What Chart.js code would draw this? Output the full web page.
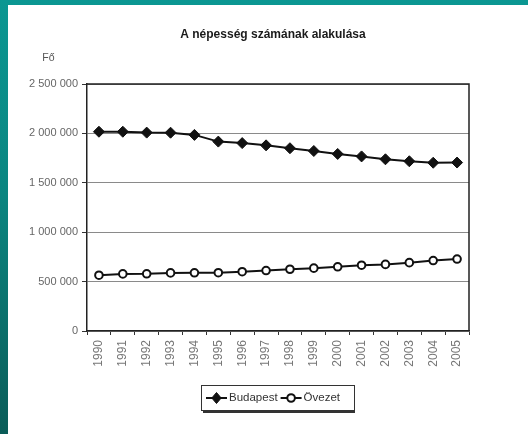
<!DOCTYPE html>
<html>
<head>
<meta charset="utf-8">
<script src="https://cdn.jsdelivr.net/npm/chart.js@4/dist/chart.umd.min.js"></script>
<style>
  html, body { margin: 0; padding: 0; }
  body {
    width: 528px; height: 434px; overflow: hidden;
    background: linear-gradient(to bottom, #0b9792 0%, #0a8580 45%, #0a5c58 100%);
    position: relative;
  }
  #panel {
    position: absolute; left: 8px; top: 5px;
    width: 520px; height: 429px; background: #ffffff;
  }
  #panel canvas { display: block; }
</style>
</head>
<body>
<div id="panel"><canvas id="chart" width="520" height="429"></canvas></div>
<script>
// Years on the category axis
const years = ['1990','1991','1992','1993','1994','1995','1996','1997',
               '1998','1999','2000','2001','2002','2003','2004','2005'];

// Population (persons)
const budapest = [2017000, 2017000, 2008000, 2007000, 1985000, 1917000, 1902000, 1879000,
                  1850000, 1822000, 1792000, 1767000, 1738000, 1718000, 1703000, 1705000];
const ovezet   = [565000, 578000, 579000, 588000, 589000, 590000, 600000, 612000,
                  625000, 636000, 650000, 666000, 674000, 692000, 713000, 728000];

// Value axis ticks
const yTicks = [0, 500000, 1000000, 1500000, 2000000, 2500000];

const titleText = 'A népesség számának alakulása';
const unitText = 'Fő';
const seriesNames = ['Budapest', 'Övezet'];

const FONT = '"Liberation Sans", Arial, sans-serif';

function fmt(v) {
  return String(v).replace(/\B(?=(\d{3})+(?!\d))/g, ' ');
}

// Title, unit label, plot frame and the boxed legend under the axis
const decorations = {
  id: 'decorations',
  afterDraw(chart) {
    const ctx = chart.ctx;
    const a = chart.chartArea;
    ctx.save();

    // frame around the plot
    ctx.strokeStyle = '#222';
    ctx.lineWidth = 1.5;
    ctx.beginPath();
    ctx.moveTo(a.left, a.top);
    ctx.lineTo(a.right, a.top);
    ctx.lineTo(a.right, a.bottom);
    ctx.stroke();

    // title
    ctx.fillStyle = '#1a1a1a';
    ctx.font = 'bold 12px ' + FONT;
    ctx.textAlign = 'center';
    ctx.textBaseline = 'middle';
    ctx.fillText(titleText, 265, 30);

    // unit
    ctx.fillStyle = '#555';
    ctx.font = '10.5px ' + FONT;
    ctx.fillText(unitText, 40.5, 53);

    // legend
    const bx = 193, by = 380, bw = 153, bh = 25;
    ctx.strokeStyle = '#333';
    ctx.lineWidth = 1;
    ctx.strokeRect(bx + 0.5, by + 0.5, bw, bh);
    ctx.lineWidth = 2;
    ctx.beginPath();
    ctx.moveTo(bx + 2, by + bh + 2);
    ctx.lineTo(bx + bw + 1, by + bh + 2);
    ctx.stroke();

    ctx.font = '11.5px ' + FONT;
    ctx.textAlign = 'left';
    const cy = by + bh / 2 + 0.5;
    let x = bx + 5;
    chart.data.datasets.forEach((ds, i) => {
      ctx.strokeStyle = '#111';
      ctx.lineWidth = 2;
      ctx.beginPath();
      ctx.moveTo(x, cy);
      ctx.lineTo(x + 21, cy);
      ctx.stroke();
      const px = x + 10.5;
      ctx.fillStyle = ds.pointBackgroundColor;
      ctx.strokeStyle = ds.pointBorderColor;
      ctx.lineWidth = ds.pointBorderWidth;
      ctx.beginPath();
      if (ds.pointStyle === 'circle') {
        ctx.arc(px, cy, ds.pointRadius, 0, Math.PI * 2);
      } else {
        const r = ds.pointRadius;
        ctx.moveTo(px, cy - r);
        ctx.lineTo(px + r * 0.85, cy);
        ctx.lineTo(px, cy + r);
        ctx.lineTo(px - r * 0.85, cy);
        ctx.closePath();
      }
      ctx.fill();
      ctx.stroke();
      x += 23;
      ctx.fillStyle = '#333';
      ctx.fillText(seriesNames[i], x, cy);
      x += ctx.measureText(seriesNames[i]).width + 3;
    });

    ctx.restore();
  }
};

new Chart(document.getElementById('chart'), {
  type: 'line',
  data: {
    labels: years,
    datasets: [
      {
        label: seriesNames[0],
        data: budapest,
        borderColor: '#111',
        borderWidth: 2,
        tension: 0,
        pointStyle: 'rectRot',
        pointRadius: 5.5,
        pointBackgroundColor: '#111',
        pointBorderColor: '#111',
        pointBorderWidth: 1
      },
      {
        label: seriesNames[1],
        data: ovezet,
        borderColor: '#111',
        borderWidth: 2,
        tension: 0,
        pointStyle: 'circle',
        pointRadius: 3.8,
        pointBackgroundColor: '#ffffff',
        pointBorderColor: '#111',
        pointBorderWidth: 2
      }
    ]
  },
  options: {
    responsive: false,
    animation: false,
    layout: { padding: { left: 0, top: 79, right: 59, bottom: 53 } },
    plugins: {
      legend: { display: false },
      title: { display: false },
      tooltip: { enabled: false }
    },
    scales: {
      x: {
        type: 'category',
        offset: true,
        afterFit(scale) { scale.height = 50; },
        grid: {
          display: true,
          drawOnChartArea: false,
          drawTicks: true,
          tickLength: 4,
          offset: true,
          tickColor: '#333'
        },
        border: { display: true, color: '#222', width: 1.5 },
        ticks: {
          minRotation: 90,
          maxRotation: 90,
          autoSkip: false,
          padding: 5,
          color: '#777',
          font: { family: FONT, size: 12 }
        }
      },
      y: {
        min: 0,
        max: 2500000,
        afterFit(scale) { scale.width = 79; },
        afterBuildTicks(scale) { scale.ticks = yTicks.map(v => ({ value: v })); },
        grid: {
          color: '#8a8a8a',
          lineWidth: 1,
          tickLength: 5,
          tickColor: '#333'
        },
        border: { display: true, color: '#222', width: 1.5 },
        ticks: {
          padding: 4,
          color: '#666',
          font: { family: FONT, size: 11 },
          callback: v => fmt(v)
        }
      }
    }
  },
  plugins: [decorations]
});
</script>
</body>
</html>
